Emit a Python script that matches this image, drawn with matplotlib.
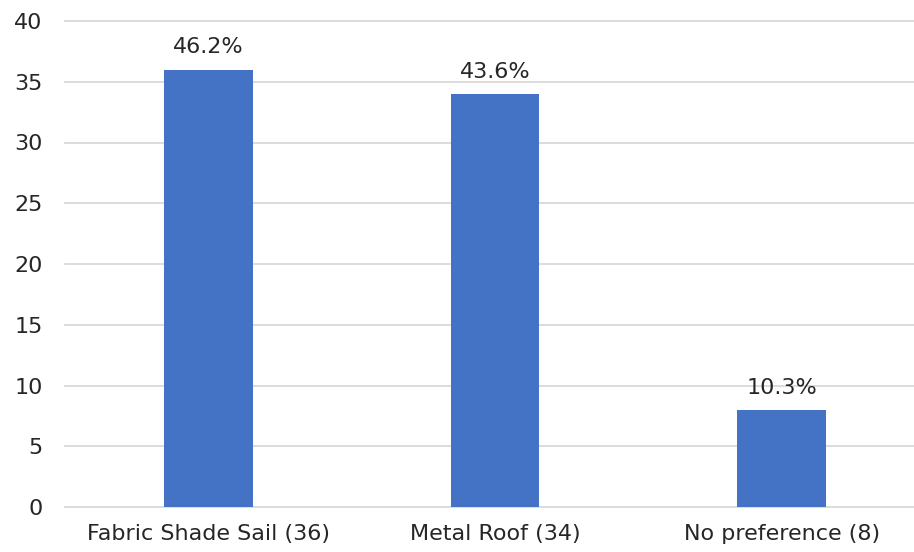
import matplotlib
matplotlib.use("Agg")
import matplotlib.pyplot as plt

categories = ["Fabric Shade Sail (36)", "Metal Roof (34)", "No preference (8)"]
counts = [36, 34, 8]
pct_labels = ["46.2%", "43.6%", "10.3%"]

plt.rcParams["font.family"] = ["DejaVu Sans"]

fig = plt.figure(figsize=(9.14, 5.52), dpi=100)
# axes box in figure fraction; right edge runs past the figure like the source crop
ax = fig.add_axes([65 / 914, 45 / 552, 860 / 914, 486 / 552])

bars = ax.bar(range(len(categories)), counts, width=0.31, color="#4472C4", zorder=3)
for b, lab in zip(bars, pct_labels):
    ax.text(b.get_x() + b.get_width() / 2, b.get_height() + 1.0, lab,
            ha="center", va="bottom", fontsize=16, color="#262626")

ax.set_xlim(-0.5, 2.5)
ax.set_ylim(0, 40)
ax.set_yticks(range(0, 41, 5))
ax.set_xticks(range(len(categories)))
ax.set_xticklabels(categories)
ax.yaxis.grid(True, color="#D9D9D9", linewidth=1.3, zorder=0)
for gl in ax.get_ygridlines():
    gl.set_clip_on(False)
ax.tick_params(axis="both", length=0, labelsize=16, colors="#262626")
ax.tick_params(axis="y", pad=16)
ax.tick_params(axis="x", pad=12)
for s in ax.spines.values():
    s.set_visible(False)

fig.savefig("out.png", dpi=100)
